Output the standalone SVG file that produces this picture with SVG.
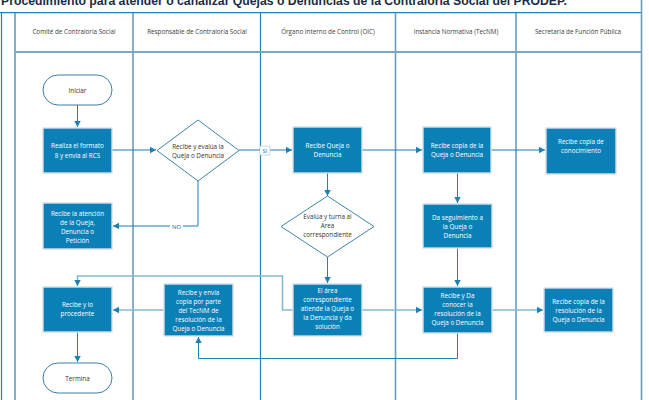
<svg xmlns="http://www.w3.org/2000/svg" width="649" height="400" viewBox="0 0 649 400">
<defs>
<marker id="ah" markerWidth="8" markerHeight="8" refX="6" refY="4" orient="auto" markerUnits="userSpaceOnUse">
<path d="M0,0.8 L6,4 L0,7.2 Z" fill="#1f7fb0"/>
</marker>
<style>
.lane{stroke:#2b7fae;stroke-width:1.2;fill:none}
.lane2{stroke:#6b9cb8;stroke-width:1.6;fill:none}
.hdr{font-family:"Open Sans","Liberation Sans",sans-serif;font-size:6.3px;fill:#404040;text-anchor:middle}
.box{fill:#0b80b7;stroke:#d5e0e6;stroke-width:1.4}
.term{fill:#ffffff;stroke:#3d7fa6;stroke-width:1}
.dia{fill:#ffffff;stroke:#3d85ad;stroke-width:1}
.wt{font-family:"Open Sans","Liberation Sans",sans-serif;font-size:6.3px;fill:#ffffff;text-anchor:middle}
.dt{font-family:"Open Sans","Liberation Sans",sans-serif;font-size:6.3px;fill:#333333;text-anchor:middle}
.con{stroke:#1f7fb0;stroke-width:1;fill:none}
.conl{stroke:#86b9d3;stroke-width:1.6;fill:none}
.lbl{font-family:"Open Sans","Liberation Sans",sans-serif;font-size:6px;fill:#2b6f98;text-anchor:middle}
</style>
</defs>
<rect x="0" y="0" width="649" height="400" fill="#ffffff"/>
<g id="pool">
<text x="1" y="4.5" font-family="Liberation Sans, Arial, sans-serif" font-size="12.5" font-weight="bold" fill="#1c2c44" textLength="566" lengthAdjust="spacingAndGlyphs">Procedimiento para atender o canalizar Quejas o Denuncias de la Contraloría Social del PRODEP.</text>
<line class="lane" x1="0" y1="12.7" x2="642" y2="12.7"/>
<line class="lane" x1="1.5" y1="12" x2="1.5" y2="400"/>
<line class="lane2" x1="641.5" y1="0" x2="641.5" y2="400"/>
<line class="lane" x1="15" y1="12.7" x2="15" y2="400"/>
<line class="lane2" x1="133" y1="12.7" x2="133" y2="400"/>
<line class="lane" x1="260.5" y1="12.7" x2="260.5" y2="400"/>
<line class="lane2" x1="395.5" y1="12.7" x2="395.5" y2="400"/>
<line class="lane" x1="516" y1="12.7" x2="516" y2="400"/>
<line x1="15" y1="52" x2="641" y2="52" stroke="#7ea6bd" stroke-width="1.8"/>
<text class="hdr" x="74" y="34">Comité de Contraloría Social</text>
<text class="hdr" x="197" y="34">Responsable de Contraloría Social</text>
<text class="hdr" x="328" y="34">Órgano Interno de Control (OIC)</text>
<text class="hdr" x="456" y="34">Instancia Normativa (TecNM)</text>
<text class="hdr" x="578" y="34">Secretaría de Función Pública</text>
</g>
<g id="connectors">
<line class="con" x1="77.5" y1="105" x2="77.5" y2="127" marker-end="url(#ah)"/>
<line class="con" x1="112" y1="150" x2="156" y2="150" marker-end="url(#ah)"/>
<polyline class="con" points="239,150 292,150" marker-end="url(#ah)"/>
<polyline class="con" points="198,181 198,226 113,226" marker-end="url(#ah)"/>
<line class="con" x1="362" y1="150" x2="422" y2="150" marker-end="url(#ah)"/>
<line class="con" x1="491" y1="150" x2="545" y2="150" marker-end="url(#ah)"/>
<line class="con" x1="327.5" y1="173" x2="327.5" y2="196" marker-end="url(#ah)"/>
<line class="con" x1="327.5" y1="257" x2="327.5" y2="283" marker-end="url(#ah)"/>
<line class="con" x1="457.5" y1="173" x2="457.5" y2="203" marker-end="url(#ah)"/>
<line class="con" x1="457.5" y1="248" x2="457.5" y2="286" marker-end="url(#ah)"/>
<polyline class="conl" points="293,310 282.5,310 282.5,276 77.5,276 77.5,286" marker-end="url(#ah)"/>
<line class="conl" x1="164" y1="310" x2="113" y2="310" marker-end="url(#ah)"/>
<line class="conl" x1="362" y1="310" x2="422" y2="310" marker-end="url(#ah)"/>
<line class="conl" x1="492" y1="310" x2="543" y2="310" marker-end="url(#ah)"/>
<polyline class="con" points="457.5,333 457.5,358.5 198.5,358.5 198.5,337" marker-end="url(#ah)"/>
<line class="con" x1="77.5" y1="332" x2="77.5" y2="362" marker-end="url(#ah)"/>
<rect x="260" y="146" width="10" height="9" fill="#ffffff" stroke="#9fc4d8" stroke-width="0.6"/>
<text class="lbl" x="265" y="153">SI</text>
<rect x="170" y="222" width="13" height="8" fill="#ffffff"/>
<text class="lbl" x="176.5" y="228.5">NO</text>
</g>
<g id="n-iniciar">
<rect class="term" x="43" y="75" width="69" height="30" rx="15"/>
<text class="dt" x="77.5" y="92.5">Iniciar</text>
</g>
<g id="n-realiza">
<rect class="box" x="43" y="128" width="69" height="45"/>
<text class="wt" x="77.5" y="148">Realiza el formato</text>
<text class="wt" x="77.5" y="157.5">8 y envía al RCS</text>
</g>
<g id="n-evalua">
<polygon class="dia" points="198,120 239,150.5 198,181 157,150.5"/>
<text class="dt" x="198" y="149">Recibe y evalúa la</text>
<text class="dt" x="198" y="158">Queja o Denuncia</text>
</g>
<g id="n-atencion">
<rect class="box" x="43" y="203" width="69" height="46"/>
<text class="wt" x="77.5" y="215.5">Recibe la atención</text>
<text class="wt" x="77.5" y="224.5">de la Queja,</text>
<text class="wt" x="77.5" y="233.5">Denuncia o</text>
<text class="wt" x="77.5" y="242.5">Petición</text>
</g>
<g id="n-recibe-queja">
<rect class="box" x="293" y="127" width="69" height="46"/>
<text class="wt" x="327.5" y="148">Recibe Queja o</text>
<text class="wt" x="327.5" y="157">Denuncia</text>
</g>
<g id="n-turna">
<polygon class="dia" points="327.5,196 374,226.5 327.5,257 281,226.5"/>
<text class="dt" x="327.5" y="219">Evalúa y turna al</text>
<text class="dt" x="327.5" y="228">Área</text>
<text class="dt" x="327.5" y="237">correspondiente</text>
</g>
<g id="n-area">
<rect class="box" x="293" y="284" width="69" height="52"/>
<text class="wt" x="327.5" y="293">El área</text>
<text class="wt" x="327.5" y="302">correspondiente</text>
<text class="wt" x="327.5" y="311">atiende la Queja o</text>
<text class="wt" x="327.5" y="320">la Denuncia y da</text>
<text class="wt" x="327.5" y="329">solución</text>
</g>
<g id="n-copia-queja">
<rect class="box" x="423" y="127" width="68" height="46"/>
<text class="wt" x="457" y="148">Recibe copia de la</text>
<text class="wt" x="457" y="157">Queja o Denuncia</text>
</g>
<g id="n-seguimiento">
<rect class="box" x="423" y="204" width="69" height="44"/>
<text class="wt" x="457.5" y="219.5">Da seguimiento a</text>
<text class="wt" x="457.5" y="228.5">la Queja o</text>
<text class="wt" x="457.5" y="237.5">Denuncia</text>
</g>
<g id="n-da-conocer">
<rect class="box" x="423" y="287" width="69" height="46"/>
<text class="wt" x="457.5" y="298">Recibe y Da</text>
<text class="wt" x="457.5" y="307">conocer la</text>
<text class="wt" x="457.5" y="316">resolución de la</text>
<text class="wt" x="457.5" y="325">Queja o Denuncia</text>
</g>
<g id="n-conocimiento">
<rect class="box" x="546" y="128" width="70" height="46"/>
<text class="wt" x="581" y="143.5">Recibe copia de</text>
<text class="wt" x="581" y="152.5">conocimiento</text>
</g>
<g id="n-copia-resolucion">
<rect class="box" x="544" y="288" width="69" height="44"/>
<text class="wt" x="578.5" y="303.5">Recibe copia de la</text>
<text class="wt" x="578.5" y="312.5">resolución de la</text>
<text class="wt" x="578.5" y="321.5">Queja o Denuncia</text>
</g>
<g id="n-envia">
<rect class="box" x="164" y="284" width="69" height="52"/>
<text class="wt" x="198.5" y="294.5">Recibe y envía</text>
<text class="wt" x="198.5" y="303.5">copia por parte</text>
<text class="wt" x="198.5" y="312.5">del TecNM de</text>
<text class="wt" x="198.5" y="321.5">resolución de la</text>
<text class="wt" x="198.5" y="330.5">Queja o Denuncia</text>
</g>
<g id="n-procedente">
<rect class="box" x="43" y="287" width="69" height="45"/>
<text class="wt" x="77.5" y="307">Recibe y lo</text>
<text class="wt" x="77.5" y="316">procedente</text>
</g>
<g id="n-termina">
<rect class="term" x="43" y="363" width="69" height="30" rx="15"/>
<text class="dt" x="77.5" y="380.5">Termina</text>
</g>
</svg>
